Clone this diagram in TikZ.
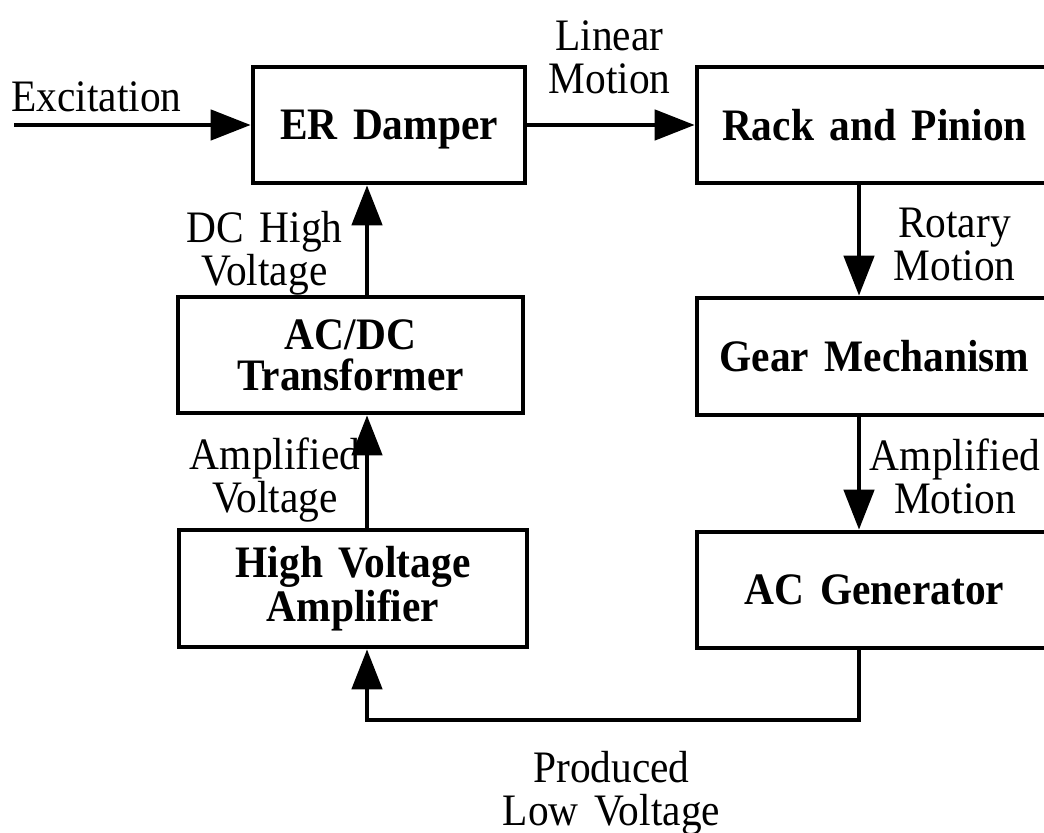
\documentclass[tikz,border=0pt]{standalone}
\usepackage{fontspec}
\setmainfont{Liberation Serif}[FakeStretch=0.92, WordSpace=1.5]
\usetikzlibrary{arrows.meta}

\begin{document}
\begin{tikzpicture}[x=0.5pt, y=-0.5pt,
        block/.style={draw, line width=2.3pt, inner sep=0pt, align=center,
            font=\fontsize{22.5}{20.5}\selectfont\bfseries},
        lbl/.style={inner sep=0pt, align=center, font=\fontsize{22.5}{21.5}\selectfont},
        flow/.style={line width=2.3pt, -{Triangle[length=20pt, width=15pt]}}]
        \useasboundingbox (0,0) rectangle (1044,833);
        \clip (0,0) rectangle (1044,833);

        % column lines
        \coordinate (lx) at (367,0);
        \coordinate (rx) at (859,0);
        \coordinate (fb) at (0,720);
        \coordinate (exc) at (14,125);

        % blocks
        \node[block, minimum width=136pt, minimum height=58pt, text depth=0pt] (er) at (389,125) {ER Damper};
        \node[block, minimum width=177.5pt, minimum height=58pt] (rack) at (874.5,125) {Rack and Pinion};
        \node[block, minimum width=177.5pt, minimum height=58.5pt] (gear) at (874.5,356.5) {Gear Mechanism};
        \node[block, minimum width=177.5pt, minimum height=58pt] (acgen) at (874.5,590) {AC Generator};
        \node[block, minimum width=172.5pt, minimum height=58pt] (acdc) at (350.5,355) {AC/DC\\Transformer};
        \node[block, minimum width=174pt, minimum height=58.5pt] (hva) at (353,588.5) {High Voltage\\Amplifier};

        % labels
        \node[lbl, anchor=base] (texc) at (96.5,112) {Excitation};
        \node[lbl] (tlin) at (609.5,57) {Linear\\Motion};
        \node[lbl] (trot) at (954.5,244) {Rotary\\Motion};
        \node[lbl] (tamo) at (955,476) {Amplified\\Motion};
        \node[lbl] (tdc) at (264.5,253) {DC High\\Voltage};
        \node[lbl] (tamv) at (275,480) {Amplified\\Voltage};
        \node[lbl] (tlow) at (611.5,793.5) {Produced\\Low Voltage};

        % signal flow
        \draw[flow] (exc) -- (er.west);
        \draw[flow] (er.east) -- (rack.west);
        \draw[flow] (rack.south -| rx) -- (gear.north -| rx);
        \draw[flow] (gear.south -| rx) -- (acgen.north -| rx);
        \draw[flow] (hva.north -| lx) -- (acdc.south -| lx);
        \draw[flow] (acdc.north -| lx) -- (er.south -| lx);

        % feedback loop
        \draw[flow] (acgen.south -| rx) -- (rx |- fb) -- (lx |- fb) -- (hva.south -| lx);
    \end{tikzpicture}
\end{document}
